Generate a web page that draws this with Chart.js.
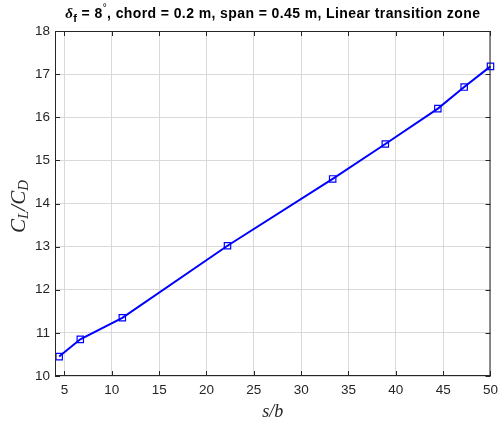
<!DOCTYPE html>
<html>
<head>
<meta charset="utf-8">
<script src="https://cdn.jsdelivr.net/npm/chart.js@4.4.1/dist/chart.umd.min.js"></script>
<style>
  html, body { margin: 0; padding: 0; background: #fff; }
</style>
</head>
<body>
<canvas id="ratio-chart" width="504" height="426"></canvas>
<script>
// s/b stations and measured lift-to-drag ratio
const spanRatio = [4.44, 6.67, 11.11, 22.22, 33.33, 38.89, 44.44, 47.22, 50];
const liftDrag = [10.45, 10.85, 11.35, 13.02, 14.57, 15.38, 16.2, 16.7, 17.18];
const xTicks = [5, 10, 15, 20, 25, 30, 35, 40, 45, 50];
const yTicks = [10, 11, 12, 13, 14, 15, 16, 17, 18];

const axisColor = "#262626";
const tickFont = { family: "Liberation Sans, Arial, sans-serif", size: 13.5 };

// draw a run of text pieces with their own font and vertical offset
function drawRuns(ctx, runs, x, y, align) {
  let total = 0;
  runs.forEach((r) => {
    ctx.font = r.font;
    r.w = ctx.measureText(r.text).width;
    total += r.w;
  });
  let cx = align === "center" ? x - total / 2 : x;
  runs.forEach((r) => {
    ctx.font = r.font;
    ctx.fillText(r.text, cx, y + (r.dy || 0));
    cx += r.w;
  });
}

// MATLAB-like box, inward ticks and labels
const matlabAxes = {
  id: "matlabAxes",
  afterDraw(chart) {
    const { ctx, chartArea: a, scales } = chart;
    ctx.save();
    ctx.strokeStyle = axisColor;
    ctx.lineWidth = 1;
    ctx.strokeRect(a.left + 0.5, a.top + 0.5, a.right - a.left - 1, a.bottom - a.top - 1);

    const len = 5;
    ctx.beginPath();
    xTicks.forEach((v) => {
      const px = Math.round(scales.x.getPixelForValue(v)) + 0.5;
      ctx.moveTo(px, a.bottom);
      ctx.lineTo(px, a.bottom - len);
      ctx.moveTo(px, a.top);
      ctx.lineTo(px, a.top + len);
    });
    yTicks.forEach((v) => {
      const py = Math.round(scales.y.getPixelForValue(v)) + 0.5;
      ctx.moveTo(a.left, py);
      ctx.lineTo(a.left + len, py);
      ctx.moveTo(a.right, py);
      ctx.lineTo(a.right - len, py);
    });
    ctx.stroke();

    ctx.fillStyle = "#000";
    ctx.textBaseline = "alphabetic";
    const midX = (a.left + a.right) / 2;
    const bold = (s) => "bold " + s + "px Liberation Sans, Arial, sans-serif";
    ctx.letterSpacing = "0.4px";
    drawRuns(ctx, [
      { text: "δ", font: "italic bold 15px Liberation Serif, serif" },
      { text: "f", font: bold(11), dy: 4 },
      { text: " = 8", font: bold(14) },
      { text: "°", font: "10px Liberation Sans, sans-serif", dy: -7 },
      { text: ", chord = 0.2 m, span = 0.45 m, Linear transition zone", font: bold(14) },
    ], midX, 18, "center");
    ctx.letterSpacing = "0px";

    ctx.fillStyle = axisColor;
    const serif = (s) => "italic " + s + "px Liberation Serif, serif";
    drawRuns(ctx, [{ text: "s/b", font: serif(18) }], midX, 417, "center");

    ctx.translate(25, (a.top + a.bottom) / 2 + 3);
    ctx.rotate(-Math.PI / 2);
    drawRuns(ctx, [
      { text: "C", font: serif(21) },
      { text: "L", font: serif(15), dy: 3 },
      { text: "/", font: serif(21) },
      { text: "C", font: serif(21) },
      { text: "D", font: serif(15), dy: 3 },
    ], 0, 0, "center");
    ctx.restore();
  },
};

const ratioChart = new Chart(document.getElementById("ratio-chart"), {
  type: "line",
  data: {
    datasets: [
      {
        data: spanRatio.map((s, i) => ({ x: s, y: liftDrag[i] })),
        borderColor: "#0000ff",
        borderWidth: 2,
        pointStyle: "rect",
        pointRadius: 4.5,
        pointBorderWidth: 1.2,
        pointBorderColor: "#0000ff",
        pointBackgroundColor: "rgba(0,0,0,0)",
        tension: 0,
        clip: false,
      },
    ],
  },
  options: {
    responsive: false,
    animation: false,
    devicePixelRatio: 1,
    layout: { padding: { top: 31, right: 8, left: 0, bottom: 0 } },
    plugins: { legend: { display: false }, title: { display: false }, tooltip: { enabled: false } },
    scales: {
      x: {
        type: "linear",
        min: 4,
        max: 50,
        afterBuildTicks: (s) => { s.ticks = xTicks.map((v) => ({ value: v })); },
        afterFit: (s) => { s.height = 50; },
        ticks: { color: axisColor, font: tickFont, padding: 6, maxRotation: 0 },
        grid: { color: "#d9d9d9", drawTicks: false },
        border: { display: false },
      },
      y: {
        min: 10,
        max: 18,
        afterBuildTicks: (s) => { s.ticks = yTicks.map((v) => ({ value: v })); },
        afterFit: (s) => { s.width = 55; },
        ticks: { color: axisColor, font: tickFont, padding: 5 },
        grid: { color: "#d9d9d9", drawTicks: false },
        border: { display: false },
      },
    },
  },
  plugins: [matlabAxes],
});
</script>
</body>
</html>
